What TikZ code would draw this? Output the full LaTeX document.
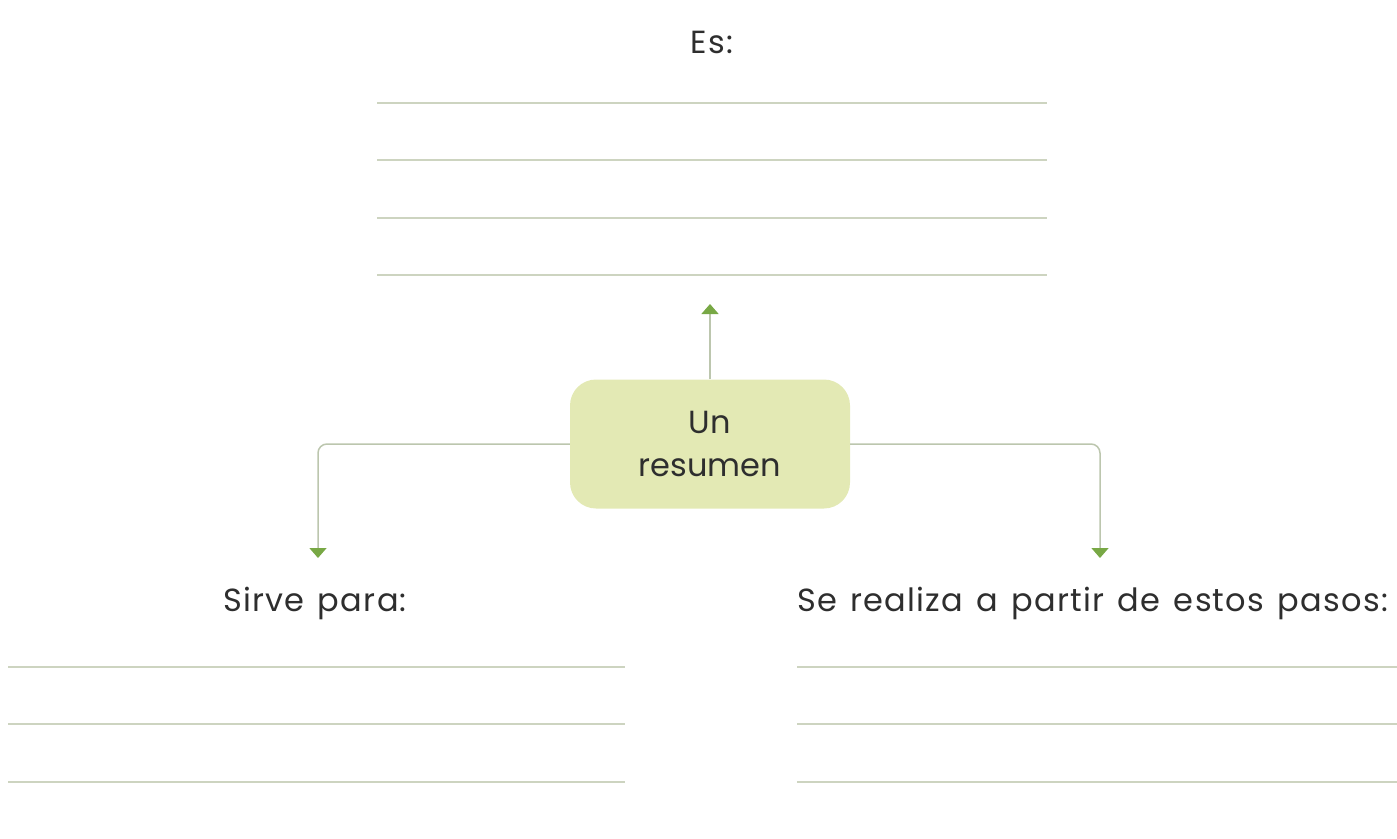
\documentclass[tikz,border=0pt]{standalone}
\usepackage{fontspec}
\setmainfont{Poppins}
\newfontfamily\lblfont[LetterSpace=4,WordSpace=1.35]{Poppins}
\usetikzlibrary{arrows.meta}
\definecolor{rulecol}{HTML}{CDD4C0}
\definecolor{conncol}{HTML}{BCC6AE}
\definecolor{arrowgreen}{HTML}{78A845}
\definecolor{boxfill}{HTML}{E3E9B4}
\definecolor{txt}{HTML}{2E2E2E}
\tikzset{
  lbl/.style={font=\lblfont\fontsize{32}{38}\selectfont, text=txt, inner sep=0pt},
  centerbox/.style={fill=boxfill, rounded corners=26pt, minimum width=280pt, minimum height=129pt, align=center, font=\fontsize{32}{43}\selectfont, text=txt},
  conn/.style={draw=conncol, line width=1.5pt, rounded corners=9pt, -{Triangle[width=17pt,length=10pt,color=arrowgreen,fill=arrowgreen]}},
  writeline/.style={draw=rulecol, line width=1.3pt}
}
\begin{document}
\begin{tikzpicture}[x=1pt,y=-1pt]
\useasboundingbox (0,0) rectangle (1397,838);
\clip (0,0) rectangle (1397,838);
% writing lines
\foreach \yy in {103,160,218,275} {\draw[writeline] (377,\yy) -- (1047,\yy);}
\foreach \yy in {667,724,782} {\draw[writeline] (8,\yy) -- (625,\yy);}
\foreach \yy in {667,724,782} {\draw[writeline] (797,\yy) -- (1397,\yy);}
% nodes
\node[centerbox] (c) at (710,444) {Un\\resumen};
\node[lbl] (es) at (712,42) {Es:};
\node[lbl] (sirve) at (315,603) {Sirve para:};
\node[lbl,anchor=west] (se) at (797,603) {Se realiza a partir de estos pasos:};
% connectors
\coordinate (upend) at (710,304);
\coordinate (lend) at (318,558);
\coordinate (rend) at (1100,558);
\draw[conn] (c.north) -- (upend);
\draw[conn] (c.west) -- (lend |- c.west) -- (lend);
\draw[conn] (c.east) -- (rend |- c.east) -- (rend);
\end{tikzpicture}
\end{document}
